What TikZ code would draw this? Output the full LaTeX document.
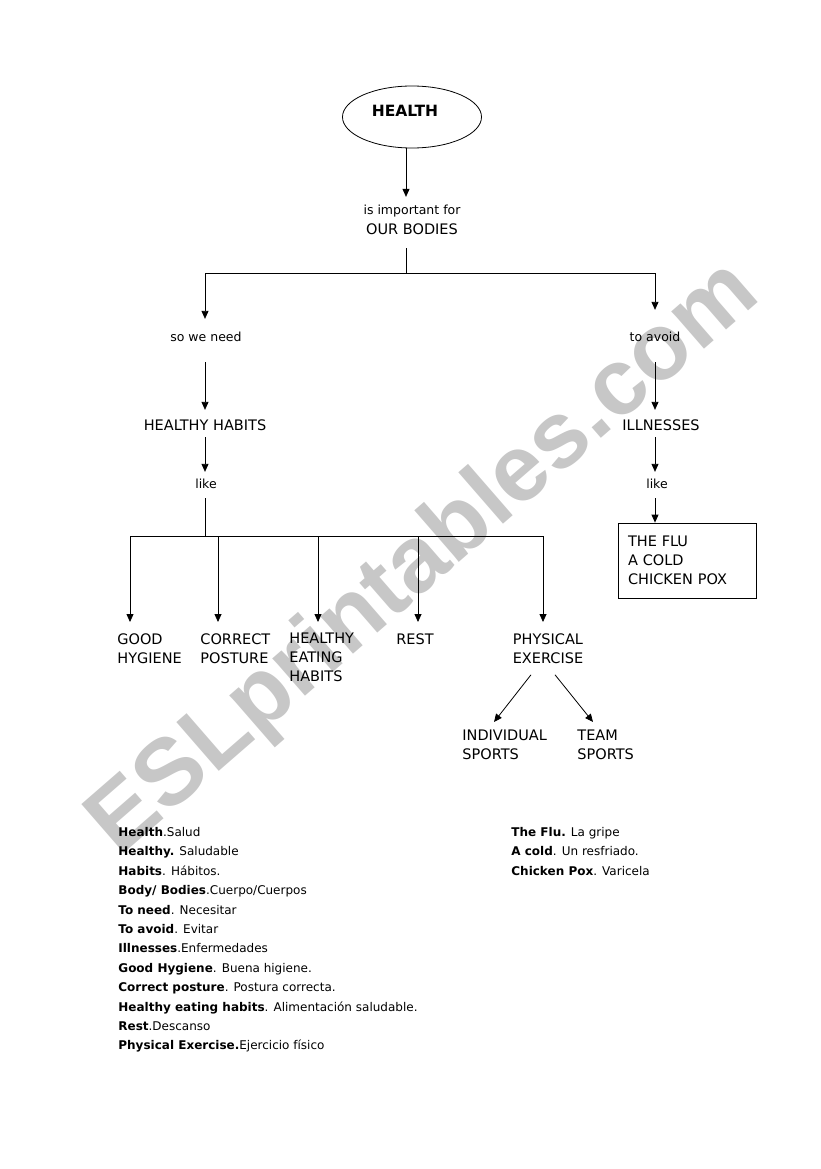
\documentclass[tikz,border=0pt]{standalone}
\usepackage{fontspec}
\setmainfont{DejaVu Sans}
\newfontfamily\markfont{Liberation Sans}
\usetikzlibrary{arrows.meta,shapes.geometric}

\begin{document}
\begin{tikzpicture}[x=1pt,y=-1pt,line width=0.8pt,
  every node/.style={inner sep=0pt},
  word/.style={font=\fontsize{14.5}{19}\selectfont,text height=10.5pt,text depth=3pt},
  link/.style={font=\fontsize{12.5}{19}\selectfont,text height=10.5pt,text depth=3pt},
  lbl/.style={font=\fontsize{14.5}{19}\selectfont,align=left,anchor=north west},
  gloss/.style={font=\fontsize{12}{19.4}\selectfont,align=left,anchor=north west},
  arr/.style={-{Triangle[length=8pt,width=7pt]}}]
  \useasboundingbox (0,0) rectangle (821,1169);
  % watermark
  \node[rotate=41,text=black!22,font=\markfont\bfseries\fontsize{94}{94}\selectfont] (mark) at (425,560) {ESLprintables.com};

  \node[draw,ellipse,minimum width=139pt,minimum height=62pt] (health) at (412,117) {};
  \node[font=\fontsize{15.5}{17}\selectfont\bfseries] (title) at (405,111) {HEALTH};
  \node[link] (imp) at (412,211) {is important for};
  \node[word] (bodies) at (412,231) {OUR BODIES};
  \node[link] (sowe) at (206,338) {so we need};
  \node[link] (toav) at (655,338) {to avoid};
  \node[word] (hh) at (205,427) {HEALTHY HABITS};
  \node[word] (illn) at (661,427) {ILLNESSES};
  \node[link] (like1) at (206,485) {like};
  \node[link] (like2) at (657,485) {like};
  \node[draw,lbl,anchor=center,text width=118pt,inner xsep=10pt,minimum height=75pt] (flu) at (687,560.5) {THE FLU\\A COLD\\CHICKEN POX};

  \node[lbl] (good) at (117,633) {GOOD\\HYGIENE};
  \node[lbl] (post) at (200,633) {CORRECT\\POSTURE};
  \node[lbl] (eat) at (289,633) {HEALTHY\\EATING\\HABITS};
  \node[lbl] (rest) at (396,633) {REST};
  \node[lbl,align=center,anchor=north] (phys) at (548,633) {PHYSICAL\\EXERCISE};
  \node[lbl] (indiv) at (462,730) {INDIVIDUAL\\SPORTS};
  \node[lbl] (team) at (577,730) {TEAM\\SPORTS};

  \coordinate (split) at (406,273);
  \coordinate (lcol) at (205,273);
  \coordinate (rcol) at (655,273);
  \coordinate (b1) at (130,536);
  \coordinate (b2) at (218,536);
  \coordinate (b3) at (318,536);
  \coordinate (b4) at (418,536);
  \coordinate (b5) at (543,536);

  \draw[arr,shorten >=7pt] (health.south -| split) -- (imp.north -| split);
  \draw[shorten <=10pt] (bodies.south -| split) -- (split);
  \draw[arr,shorten >=12pt] (split) -| (sowe.north -| lcol);
  \draw[arr,shorten >=21pt] (split) -| (toav.north -| rcol);
  \draw[arr,shorten <=17pt,shorten >=10pt] (lcol |- sowe.south) -- (lcol |- hh.north);
  \draw[arr,shorten <=3pt,shorten >=6pt] (lcol |- hh.south) -- (lcol |- like1.north);
  \draw[shorten <=6pt] (lcol |- like1.south) -- (lcol |- b1);
  \draw (b1) -- (b5);
  \draw[arr,shorten <=17pt,shorten >=10pt] (rcol |- toav.south) -- (rcol |- illn.north);
  \draw[arr,shorten <=3pt,shorten >=6pt] (rcol |- illn.south) -- (rcol |- like2.north);
  \draw[arr,shorten <=6pt] (rcol |- like2.south) -- (rcol |- flu.north);

  \foreach \b/\n in {b1/good,b2/post,b3/eat,b4/rest,b5/phys}
    \draw[arr,shorten >=11pt] (\b) -- (\b |- \n.north);

  \draw[arr] ([shift={(-17,11)}]phys.south) -- ([shift={(32,-8)}]indiv.north west);
  \draw[arr] ([shift={(7,11)}]phys.south) -- ([shift={(16,-8)}]team.north west);

  % glossary
  \node[gloss] (glossl) at (118,827) {\textbf{Health}.Salud\\
    \textbf{Healthy.} Saludable\\
    \textbf{Habits}. Hábitos.\\
    \textbf{Body/ Bodies}.Cuerpo/Cuerpos\\
    \textbf{To need}. Necesitar\\
    \textbf{To avoid}. Evitar\\
    \textbf{Illnesses}.Enfermedades\\
    \textbf{Good Hygiene}. Buena higiene.\\
    \textbf{Correct posture}. Postura correcta.\\
    \textbf{Healthy eating habits}. Alimentación saludable.\\
    \textbf{Rest}.Descanso\\
    \textbf{Physical Exercise.}Ejercicio físico};
  \node[gloss] (glossr) at (511,827) {\textbf{The Flu.} La gripe\\
    \textbf{A cold}. Un resfriado.\\
    \textbf{Chicken Pox}. Varicela};
\end{tikzpicture}
\end{document}
